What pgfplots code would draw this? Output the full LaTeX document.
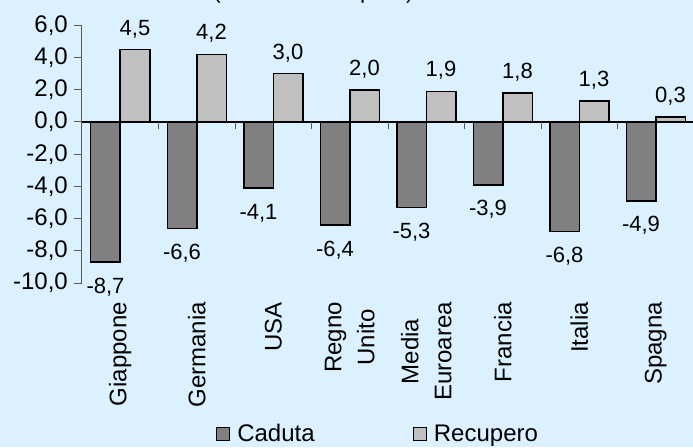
\documentclass[border=0pt]{standalone}
\usepackage{pgfplots}
\pgfplotsset{compat=1.18}
\usepackage{fontspec}
\setmainfont{Liberation Sans}
\definecolor{bg}{RGB}{220,241,255}
\definecolor{cad}{RGB}{128,128,128}
\definecolor{rec}{RGB}{192,192,192}
\definecolor{axgray}{RGB}{90,90,90}
\begin{document}
\begin{tikzpicture}
\useasboundingbox (0,0) rectangle (693pt,447pt);
\fill[bg] (0,0) rectangle (693pt,447pt);
\clip (0,0) rectangle (693pt,447pt);
\node[anchor=base east, font=\fontsize{23}{27}\selectfont, inner sep=0pt] at (414pt,448.5pt) {(caduta e recupero)};
\begin{axis}[
  at={(82pt,164pt)}, anchor=south west,
  scale only axis, width=612pt, height=257.6pt,
  xmin=-0.5, xmax=7.5, ymin=-10, ymax=6,
  clip=false,
  ybar=0pt, bar width=29.5pt,
  axis y line*=left, axis x line*=bottom,
  x axis line style={draw=none},
  y axis line style={draw=axgray, line width=1pt},
  xtick={0,...,7},
  xticklabels={Giappone,Germania,USA,{Regno\\Unito},{Media\\Euroarea},Francia,Italia,Spagna},
  xtick style={draw=none},
  xticklabel style={rotate=90, anchor=east, align=center, inner sep=0pt, font=\fontsize{24}{33}\selectfont},
  xticklabel shift=11pt,
  ytick={-10,-8,...,6},
  yticklabels={{-10,0},{-8,0},{-6,0},{-4,0},{-2,0},{0,0},{2,0},{4,0},{6,0}},
  ytick style={draw=axgray, line width=1pt},
  tick align=outside,
  major tick length=8pt,
  yticklabel style={inner sep=0pt, anchor=east, font=\fontsize{24}{28}\selectfont},
  yticklabel shift=6pt,
  legend style={at={(axis description cs:0.219,-0.586)}, anchor=west, draw=none, fill=none,
     inner sep=0pt, outer sep=0pt, font=\fontsize{24}{28}\selectfont,
     /tikz/every even column/.append style={column sep=96pt}},
  legend columns=2,
  legend image code/.code={\draw[#1, line width=1pt, draw=black] (0pt,-6.5pt) rectangle (13pt,6.5pt); \path (18pt,0pt);},
]
\addplot[fill=cad, draw=black, line width=1.5pt,
  nodes near coords={\pgfmathprintnumber[fixed,fixed zerofill,precision=1,use comma,assume math mode=true]{\pgfplotspointmeta}},
  every node near coord/.append style={anchor=base, yshift=-31pt, inner sep=0pt, font=\fontsize{22}{26}\selectfont}]
  coordinates {(0,-8.7) (1,-6.6) (2,-4.1) (3,-6.4) (4,-5.3) (5,-3.9) (6,-6.8) (7,-4.9)};
\addlegendentry{Caduta}
\addplot[fill=rec, draw=black, line width=1.5pt,
  nodes near coords={\pgfmathprintnumber[fixed,fixed zerofill,precision=1,use comma,assume math mode=true]{\pgfplotspointmeta}},
  every node near coord/.append style={anchor=base, yshift=14.5pt, inner sep=0pt, font=\fontsize{22}{26}\selectfont}]
  coordinates {(0,4.5) (1,4.2) (2,3.0) (3,2.0) (4,1.9) (5,1.8) (6,1.3) (7,0.3)};
\addlegendentry{Recupero}
\draw[black, line width=1.5pt] (axis cs:-0.5,0) -- (axis cs:7.5,0);
\pgfplotsinvokeforeach{-0.5,0.5,1.5,2.5,3.5,4.5,5.5,6.5,7.5}{
  \draw[axgray, line width=1pt] (axis cs:#1,0) -- ([yshift=-7pt]axis cs:#1,0);
}
\end{axis}
\end{tikzpicture}
\end{document}
